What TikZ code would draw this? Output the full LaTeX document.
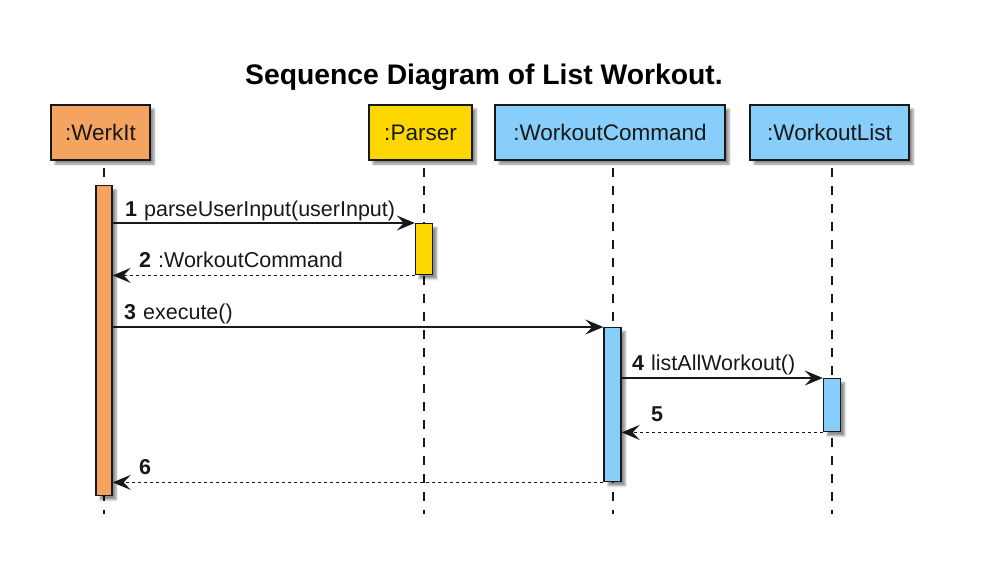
\documentclass[tikz,border=0pt]{standalone}
\usepackage{fontspec}
\setmainfont{Liberation Sans}
\usetikzlibrary{arrows.meta,shadows.blur}
\definecolor{werk}{RGB}{244,164,96}
\definecolor{pars}{RGB}{255,215,0}
\definecolor{wblue}{RGB}{135,206,250}
\definecolor{ink}{RGB}{24,24,24}
\tikzset{
  part/.style={draw=ink, line width=1.8pt, minimum height=55pt, inner sep=0pt,
    font=\fontsize{22.5}{26}\selectfont, text=ink,
    blur shadow={shadow xshift=4pt, shadow yshift=-4pt, shadow blur steps=6, shadow opacity=45}},
  actbar/.style={draw=ink, line width=1.4pt, minimum width=17pt, inner sep=0pt, anchor=north,
    blur shadow={shadow xshift=4pt, shadow yshift=-4pt, shadow blur steps=5, shadow opacity=45}},
  lifeline/.style={draw=ink, line width=1.2pt, dash pattern=on 9pt off 9pt},
  msg/.style={draw=ink, line width=1.4pt, -{Stealth[length=18pt,width=15pt,inset=7pt]}},
  ret/.style={msg, dash pattern=on 3pt off 3pt},
  lbl/.style={font=\fontsize{21.5}{25}\selectfont, text=ink, inner sep=0pt, anchor=base west},
}
\begin{document}
\begin{tikzpicture}[x=1pt,y=-1pt]
\useasboundingbox (0,0) rectangle (987,566);
% title
\node[font=\bfseries\fontsize{28.3}{32}\selectfont, text=black, inner sep=0pt] (title) at (484,77) {Sequence Diagram of List Workout.};
% lifelines
\coordinate (l1t) at (104,168); \coordinate (l1b) at (104,514);
\coordinate (l2t) at (424,168); \coordinate (l2b) at (424,514);
\coordinate (l3t) at (613,168); \coordinate (l3b) at (613,514);
\coordinate (l4t) at (832,168); \coordinate (l4b) at (832,514);
\draw[lifeline] (l1t) -- (l1b);
\draw[lifeline] (l2t) -- (l2b);
\draw[lifeline] (l3t) -- (l3b);
\draw[lifeline] (l4t) -- (l4b);
% participants
\node[part, fill=werk, minimum width=99pt] (pw) at (100.5,132.5) {:WerkIt};
\node[part, fill=pars, minimum width=103pt] (pp) at (420.5,132.5) {:Parser};
\node[part, fill=wblue, minimum width=230pt] (pc) at (610,132.5) {:WorkoutCommand};
\node[part, fill=wblue, minimum width=159pt] (pl) at (829.5,132.5) {:WorkoutList};
% activation bars
\node[actbar, fill=werk, minimum width=16pt, minimum height=310pt] (bw) at (104,185) {};
\node[actbar, fill=pars, minimum height=51pt] (bp) at (424,223) {};
\node[actbar, fill=wblue, minimum height=154pt] (bc) at (612.5,327) {};
\node[actbar, fill=wblue, minimum height=53pt] (bl) at (832,378) {};
% messages
\draw[msg] (bw.east |- bp.north west) -- (bp.north west);
\draw[ret] (bp.south west) -- (bw.east |- bp.south west);
\draw[msg] (bw.east |- bc.north west) -- (bc.north west);
\draw[msg] (bc.east |- bl.north west) -- (bl.north west);
\draw[ret] (bl.south west) -- (bc.east |- bl.south west);
\draw[ret] (bc.south west) -- (bw.east |- bc.south west);
% labels
\node[lbl] (t1) at (125,216) {\textbf{1}\hspace{7pt}parseUserInput(userInput)};
\node[lbl] (t2) at (139,267) {\textbf{2}\hspace{7pt}:WorkoutCommand};
\node[lbl] (t3) at (124,319) {\textbf{3}\hspace{7pt}execute()};
\node[lbl] (t4) at (632,370) {\textbf{4}\hspace{7pt}listAllWorkout()};
\node[lbl] (t5) at (651,421) {\textbf{5}};
\node[lbl] (t6) at (139,474) {\textbf{6}};
\end{tikzpicture}
\end{document}
